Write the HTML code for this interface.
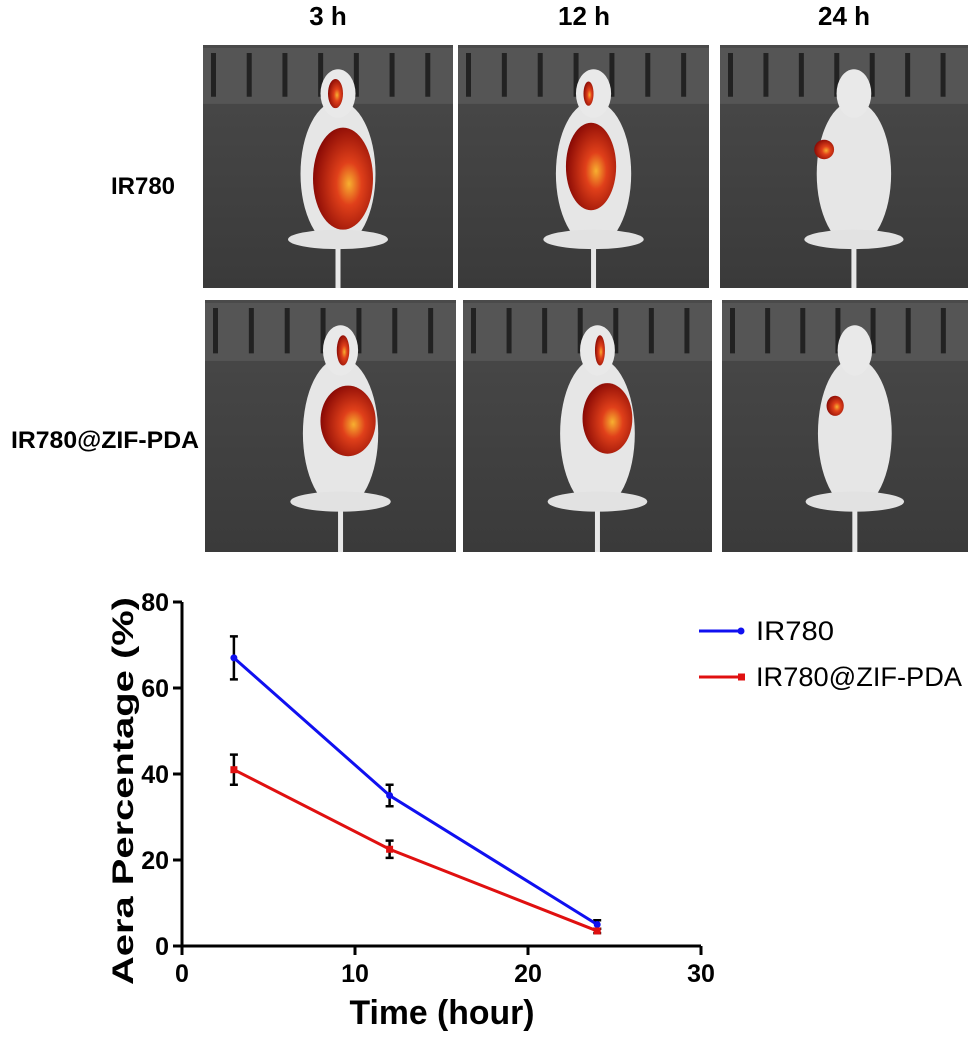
<!DOCTYPE html>
<html><head><meta charset="utf-8"><style>
body{margin:0;background:#fff;width:972px;height:1039px;overflow:hidden;font-family:"Liberation Sans",sans-serif}
svg{display:block}
</style></head><body>
<svg width="972" height="1039" viewBox="0 0 972 1039">
<defs>
<radialGradient id="hot" cx="0.6" cy="0.55" r="0.6"><stop offset="0" stop-color="#f7b030"/><stop offset="0.35" stop-color="#e0401a"/><stop offset="1" stop-color="#8a0a05"/></radialGradient>
<linearGradient id="bg" x1="0" y1="0" x2="0" y2="1"><stop offset="0" stop-color="#4a4a4a"/><stop offset="1" stop-color="#3a3a3a"/></linearGradient>
</defs>
<g font-weight="bold" font-size="24" fill="#000">
<text x="328" y="25" text-anchor="middle" font-size="26">3 h</text>
<text x="584" y="25" text-anchor="middle" font-size="26">12 h</text>
<text x="844" y="25" text-anchor="middle" font-size="26">24 h</text>
<text x="143" y="194" text-anchor="middle">IR780</text>
<text x="105" y="448" text-anchor="middle" textLength="188" lengthAdjust="spacingAndGlyphs">IR780@ZIF-PDA</text>
</g>
<g id="imgs"></g>
<g id="chart"></g>
</svg>
<script>
const NS="http://www.w3.org/2000/svg";
function mk(tag,attrs,parent){const e=document.createElementNS(NS,tag);for(const k in attrs)e.setAttribute(k,attrs[k]);parent.appendChild(e);return e;}
const panels=[
 {x:203,y:45,w:250,h:243,blobs:[[0.53,0.2,0.03,0.06],[0.56,0.55,0.12,0.21]]},
 {x:458,y:45,w:251,h:243,blobs:[[0.52,0.2,0.02,0.05],[0.53,0.5,0.1,0.18]]},
 {x:720,y:45,w:248,h:243,blobs:[[0.42,0.43,0.04,0.04]]},
 {x:205,y:300,w:251,h:252,blobs:[[0.55,0.2,0.025,0.06],[0.57,0.48,0.11,0.14]]},
 {x:463,y:300,w:249,h:252,blobs:[[0.55,0.2,0.02,0.06],[0.58,0.47,0.1,0.14]]},
 {x:722,y:300,w:246,h:252,blobs:[[0.46,0.42,0.035,0.04]]}
];
const ig=document.getElementById('imgs');
panels.forEach((p,i)=>{
 const g=mk('g',{},ig);
 
 
 mk('rect',{x:p.x,y:p.y,width:p.w,height:p.h,fill:'url(#bg)'},g);
 mk('rect',{x:p.x,y:p.y+3,width:p.w,height:p.h*0.23,fill:'#555'},g);
 for(let k=0;k<7;k++){mk('rect',{x:p.x+8+k*p.w/7,y:p.y+8,width:5,height:p.h*0.18,fill:'#222'},g);}
 const cx=p.x+p.w*0.54;
 mk('line',{x1:cx,y1:p.y+p.h*0.8,x2:cx,y2:p.y+p.h,stroke:'#e8e8e8','stroke-width':5},g);
 mk('ellipse',{cx:cx,cy:p.y+p.h*0.53,rx:p.w*0.15,ry:p.h*0.3,fill:'#e6e6e6'},g);
 mk('ellipse',{cx:cx,cy:p.y+p.h*0.2,rx:p.w*0.07,ry:p.h*0.1,fill:'#e9e9e9'},g);
 mk('ellipse',{cx:cx,cy:p.y+p.h*0.8,rx:p.w*0.2,ry:p.h*0.04,fill:'#e2e2e2'},g);
 p.blobs.forEach(b=>mk('ellipse',{cx:p.x+p.w*b[0],cy:p.y+p.h*b[1],rx:p.w*b[2],ry:p.h*b[3],fill:'url(#hot)'},g));
});

// Chart data
const times=[3,12,24];
const ir780=[67,35,5];
const ir780Err=[5,2.5,1];
const zif=[41,22.5,3.5];
const zifErr=[3.5,2,0.5];
const xTicks=[0,10,20,30];
const yTicks=[0,20,40,60,80];
const X=v=>182+v*(701-182)/30;
const Y=v=>946-v*(946-602)/80;
const c=document.getElementById('chart');
let ax=mk('path',{d:`M${X(0)},${Y(80)} V${Y(0)} H${X(30)}`,fill:'none',stroke:'#000','stroke-width':3},c);


xTicks.forEach(t=>{
 mk('line',{x1:X(t),y1:Y(0),x2:X(t),y2:Y(0)+9,stroke:'#000','stroke-width':3},c);
 const tx=mk('text',{x:X(t),y:Y(0)+36,'text-anchor':'middle','font-size':25,'font-weight':'bold'},c);
 tx.textContent=t;
 
 
});
yTicks.forEach(t=>{
 mk('line',{x1:X(0)-9,y1:Y(t),x2:X(0),y2:Y(t),stroke:'#000','stroke-width':3},c);
 const tx=mk('text',{x:X(0)-13,y:Y(t)+9,'text-anchor':'end','font-size':25,'font-weight':'bold'},c);
 tx.textContent=t;
 
 
});
let xt=mk('text',{x:442,y:1024,'text-anchor':'middle','font-size':34,'font-weight':'bold',textLength:185,lengthAdjust:'spacingAndGlyphs'},c);
xt.textContent='Time (hour)';


let yt=mk('text',{x:0,y:0,'text-anchor':'middle','font-size':30,'font-weight':'bold',textLength:388,lengthAdjust:'spacingAndGlyphs',transform:`translate(133,791) rotate(-90)`},c);
yt.textContent='Aera Percentage (%)';


function series(vals,errs,color,name,square){
 const g=mk('g',{},c);
 
 
 vals.forEach((v,i)=>{
  const x=X(times[i]);
  mk('path',{d:`M${x},${Y(v+errs[i])}V${Y(v-errs[i])}M${x-4},${Y(v+errs[i])}h8M${x-4},${Y(v-errs[i])}h8`,stroke:'#000','stroke-width':2.5,fill:'none'},g);
 });
 mk('polyline',{points:vals.map((v,i)=>X(times[i])+','+Y(v)).join(' '),fill:'none',stroke:color,'stroke-width':3},g);
 vals.forEach((v,i)=>{
  if(square)mk('rect',{x:X(times[i])-3.5,y:Y(v)-3.5,width:7,height:7,fill:color},g);
  else mk('circle',{cx:X(times[i]),cy:Y(v),r:3.5,fill:color},g);
 });
}
series(ir780,ir780Err,'#1010f0','ir780',false);
series(zif,zifErr,'#e01010','ir780-zif-pda',true);
function legend(y,color,label,square,name,len){
 const g=mk('g',{},c);
 
 
 mk('line',{x1:699,y1:y,x2:742,y2:y,stroke:color,'stroke-width':3},g);
 if(square)mk('rect',{x:738,y:y-3.5,width:7,height:7,fill:color},g);
 else mk('circle',{cx:741,cy:y,r:3.5,fill:color},g);
 const t=mk('text',{x:756,y:y+9,'font-size':27,textLength:len,lengthAdjust:'spacingAndGlyphs'},g);
 t.textContent=label;
}
legend(631,'#1010f0','IR780',false,'legend-ir780',78);
legend(677,'#e01010','IR780@ZIF-PDA',true,'legend-ir780-zif-pda',206);
</script>
</body></html>
